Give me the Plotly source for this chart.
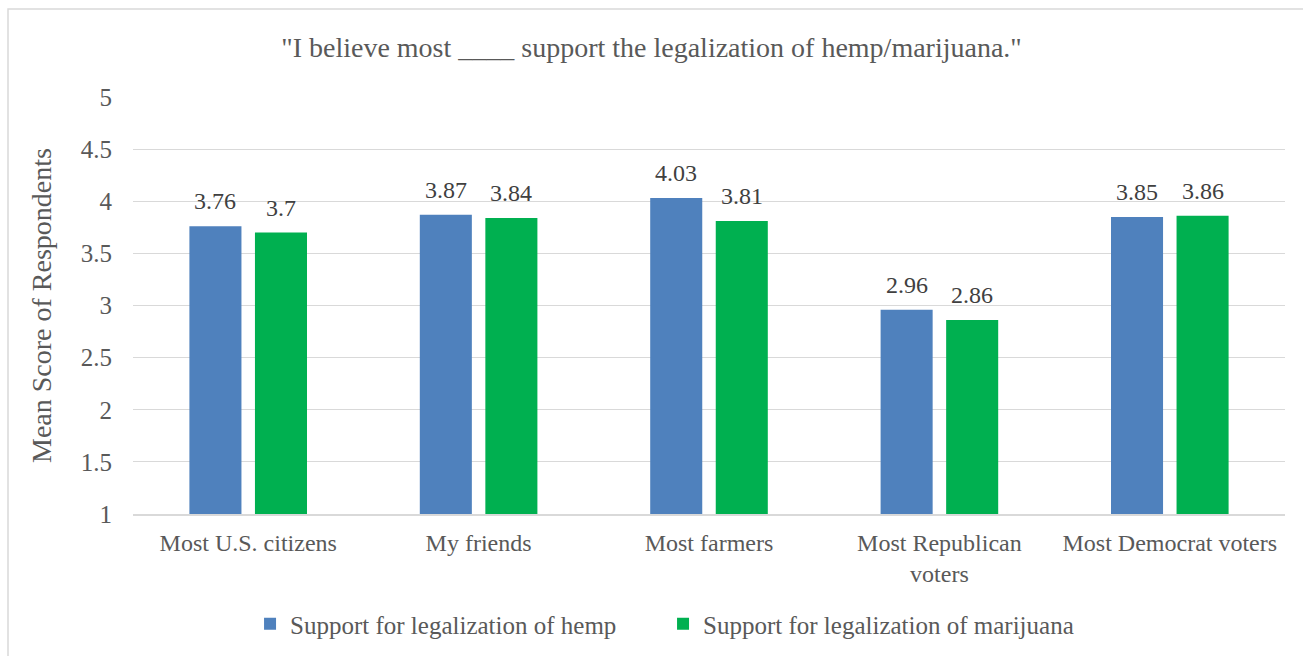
import plotly.graph_objects as go

categories = ["Most U.S. citizens", "My friends", "Most farmers", "Most Republican<br>voters", "Most Democrat voters"]
hemp = [3.76, 3.87, 4.03, 2.96, 3.85]
marijuana = [3.70, 3.84, 3.81, 2.86, 3.86]
series_names = ["Support for legalization of hemp", "Support for legalization of marijuana"]
colors = ["#4F81BD", "#00B050"]
y_ticks = [1, 1.5, 2, 2.5, 3, 3.5, 4, 4.5, 5]

FONT = "Liberation Serif"
TXT = "#595959"

fig = go.Figure()
for name, vals, col in zip(series_names, [hemp, marijuana], colors):
    fig.add_trace(go.Bar(x=categories, y=vals, name=name, marker_color=col, marker_line_width=0))

annotations = []
for k, vals in enumerate([hemp, marijuana]):
    shift = -32.75 if k == 0 else 32.75
    for c, v in zip(categories, vals):
        annotations.append(dict(x=c, y=v, xref="x", yref="y", text=f"{v:g}", showarrow=False,
                                xshift=shift, yshift=25, font=dict(family=FONT, size=24, color="#404040")))

fig.update_layout(
    width=1303, height=656,
    margin=dict(l=133, r=18, t=97, b=142, autoexpand=False),
    paper_bgcolor="white", plot_bgcolor="white",
    font=dict(family=FONT, size=24, color=TXT),
    title=dict(text='"I believe most ____ support the legalization of hemp/marijuana."',
               x=0.5, xanchor="center", y=1 - 47 / 656, yanchor="middle",
               font=dict(family=FONT, size=28, color=TXT)),
    barmode="group", bargap=0.431, bargroupgap=0.206,
    showlegend=True,
    legend=dict(orientation="h", x=0.1016, xanchor="left", yref="container", y=(656 - 624) / 656,
                yanchor="middle", entrywidth=368, entrywidthmode="pixels",
                font=dict(family=FONT, size=25, color=TXT), traceorder="normal"),
    annotations=annotations,
    shapes=[dict(type="rect", xref="paper", yref="paper", x0=-0.1085, x1=1.2, y0=-0.5, y1=1.211,
                 line=dict(color="#d9d9d9", width=1.5), fillcolor="rgba(0,0,0,0)", layer="below")],
)
fig.update_yaxes(range=[1, 5], tickvals=y_ticks, ticktext=[f"{t:g}" for t in y_ticks],
                 showgrid=True, gridcolor="#d9d9d9", gridwidth=1, zeroline=False, automargin=False,
                 tickfont=dict(family=FONT, size=25, color=TXT), ticklabelstandoff=20,
                 title=dict(text="Mean Score of Respondents", font=dict(family=FONT, size=28, color=TXT), standoff=20))
fig.update_xaxes(showline=True, linecolor="#d9d9d9", linewidth=1.5, automargin=False,
                 tickfont=dict(family=FONT, size=24, color=TXT), ticklabelstandoff=6)
fig.write_html("out.html")
